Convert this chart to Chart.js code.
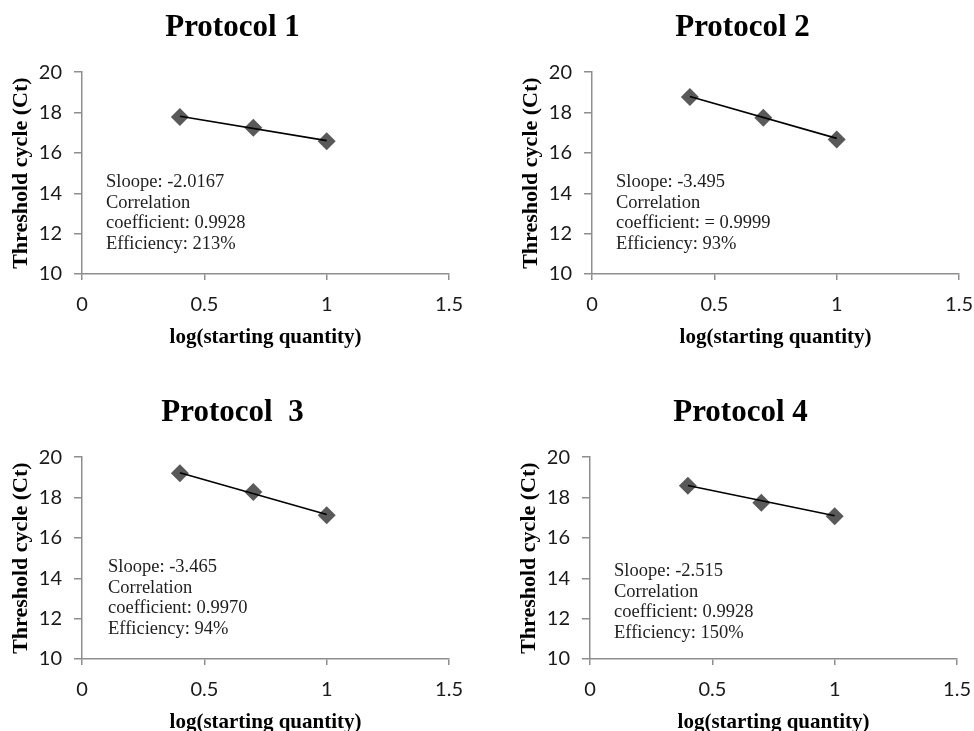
<!DOCTYPE html>
<html><head><meta charset="utf-8">
<script src="https://cdn.jsdelivr.net/npm/chart.js@4.4.1/dist/chart.umd.min.js"></script>
<style>
html,body{margin:0;padding:0;background:#fff;}
body{width:974px;height:731px;overflow:hidden;position:relative;}
canvas{position:absolute;}
</style></head><body>
<canvas id="c1" width="476" height="372" style="left:0;top:0"></canvas>
<canvas id="c2" width="476" height="372" style="left:510px;top:0"></canvas>
<canvas id="c3" width="476" height="372" style="left:0;top:385px"></canvas>
<canvas id="c4" width="476" height="372" style="left:508px;top:385px"></canvas>
<script>
// ---- data ----
const titles = ['Protocol 1', 'Protocol 2', 'Protocol  3', 'Protocol 4'];
const xValues = [0.4, 0.7, 1.0];
const ct1 = [17.78, 17.25, 16.58];
const ct2 = [18.77, 17.74, 16.66];
const ct3 = [19.21, 18.27, 17.12];
const ct4 = [18.58, 17.74, 17.08];
const trendX = [0.4, 1.0];
const trend1 = [17.82, 16.61];
const trend2 = [18.80, 16.72];
const trend3 = [19.23, 17.16];
const trend4 = [18.60, 17.10];
const xTickLabels = ['0', '0.5', '1', '1.5'];
const yTickLabels = ['10', '12', '14', '16', '18', '20'];
const notes1 = ['Sloope: -2.0167', 'Correlation', 'coefficient: 0.9928', 'Efficiency: 213%'];
const notes2 = ['Sloope: -3.495', 'Correlation', 'coefficient: = 0.9999', 'Efficiency: 93%'];
const notes3 = ['Sloope: -3.465', 'Correlation', 'coefficient: 0.9970', 'Efficiency: 94%'];
const notes4 = ['Sloope: -2.515', 'Correlation', 'coefficient: 0.9928', 'Efficiency: 150%'];
const xTitle = 'log(starting quantity)';
const yTitle = 'Threshold cycle (Ct)';

const panels = [
  {id: 'c1', title: titles[0], ct: ct1, trend: trend1, notes: notes1, noteDx: 24, noteDy: 110},
  {id: 'c2', title: titles[1], ct: ct2, trend: trend2, notes: notes2, noteDx: 24, noteDy: 110},
  {id: 'c3', title: titles[2], ct: ct3, trend: trend3, notes: notes3, noteDx: 26, noteDy: 110},
  {id: 'c4', title: titles[3], ct: ct4, trend: trend4, notes: notes4, noteDx: 24, noteDy: 114}
];

const notePlugin = {
  id: 'notes',
  afterDatasetsDraw(chart, args, opts) {
    const ctx = chart.ctx;
    const a = chart.chartArea;
    ctx.save();
    ctx.font = '18.5px "Liberation Serif", "Times New Roman", serif';
    ctx.fillStyle = '#1e1e1e';
    ctx.textAlign = 'left';
    ctx.textBaseline = 'middle';
    opts.lines.forEach((t, i) => {
      ctx.fillText(t, a.left + opts.dx, a.top + opts.dy + i * 20.6);
    });
    ctx.restore();
  }
};

const axisGray = '#8e8e8e';
const tickFont = {family: 'Lato, "Open Sans", sans-serif', size: 20};

panels.forEach(p => {
  const pts = xValues.map((x, i) => ({x: x, y: p.ct[i]}));
  const tr = trendX.map((x, i) => ({x: x, y: p.trend[i]}));
  new Chart(document.getElementById(p.id), {
    type: 'scatter',
    data: {
      datasets: [
        {data: tr, showLine: true, borderColor: '#000', borderWidth: 1.6, pointRadius: 0, order: 0},
        {data: pts, pointStyle: 'rectRot', pointRadius: 9, backgroundColor: '#595959', borderColor: '#595959', borderWidth: 0, order: 1}
      ]
    },
    options: {
      responsive: false,
      animation: false,
      devicePixelRatio: 1,
      layout: {padding: {left: 0, right: 11, top: 0, bottom: 0}},
      plugins: {
        legend: {display: false},
        tooltip: {enabled: false},
        title: {
          display: true, text: p.title, color: '#000',
          font: {family: '"Liberation Serif", "Times New Roman", serif', size: 31, weight: 'bold', lineHeight: 1.2},
          padding: {top: 9, bottom: 26}
        },
        notes: {lines: p.notes, dx: p.noteDx, dy: p.noteDy}
      },
      scales: {
        x: {
          type: 'linear', min: 0, max: 1.5,
          afterFit: s => { s.height = 98; },
          ticks: {stepSize: 0.5, color: '#1a1a1a', font: tickFont, padding: 13,
                  callback: (v, i) => xTickLabels[i]},
          grid: {drawOnChartArea: false, drawTicks: true, tickLength: 6, color: axisGray, lineWidth: 1.5},
          border: {display: true, color: axisGray, width: 1.5},
          title: {display: true, text: xTitle, color: '#000',
                  font: {family: '"Liberation Serif", "Times New Roman", serif', size: 21, weight: 'bold', lineHeight: 1.2},
                  padding: {top: 0, bottom: 22}}
        },
        y: {
          type: 'linear', min: 10, max: 20,
          afterFit: s => { s.width = 82; },
          ticks: {stepSize: 2, color: '#1a1a1a', font: tickFont, padding: 12,
                  callback: (v, i) => yTickLabels[i]},
          grid: {drawOnChartArea: false, drawTicks: true, tickLength: 8, color: axisGray, lineWidth: 1.5},
          border: {display: true, color: axisGray, width: 1.5},
          title: {display: true, text: yTitle, color: '#000',
                  font: {family: '"Liberation Serif", "Times New Roman", serif', size: 22, weight: 'bold', lineHeight: 1.2},
                  padding: {top: 8, bottom: 0}}
        }
      }
    },
    plugins: [notePlugin]
  });
});
</script>
</body></html>
